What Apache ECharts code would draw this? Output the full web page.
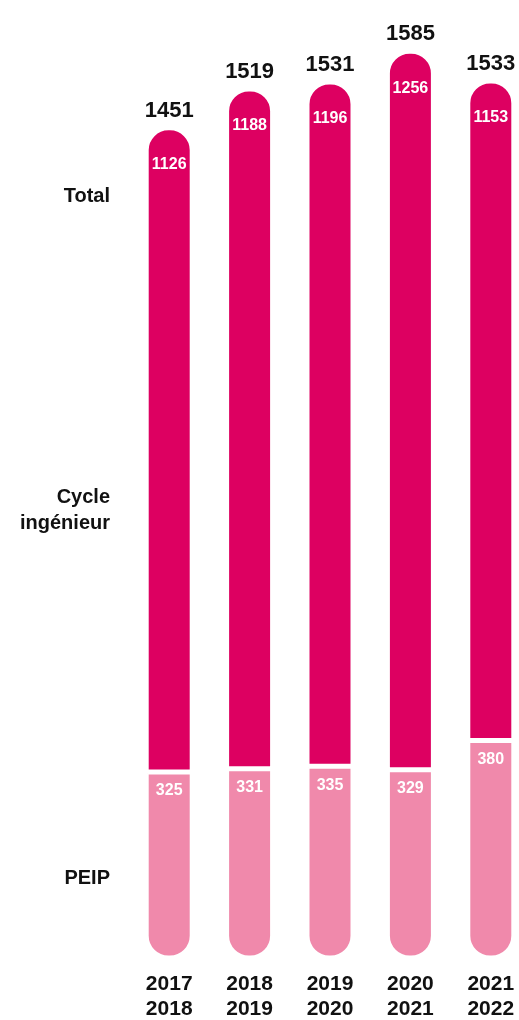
<!DOCTYPE html>
<html>
<head>
<meta charset="utf-8">
<script src="https://cdn.jsdelivr.net/npm/echarts@6/dist/echarts.min.js"></script>
<style>
html,body{margin:0;padding:0;background:#fff;}
#c{width:519px;height:1020px;}
</style>
</head>
<body>
<div id="c"></div>
<script>
const categories = ['2017\n2018', '2018\n2019', '2019\n2020', '2020\n2021', '2021\n2022'];
const peip = [325, 331, 335, 329, 380];
const cycle = [1126, 1188, 1196, 1256, 1153];
const totals = [1451, 1519, 1531, 1585, 1533];
const sideLabels = ['Total', 'Cycle\ningénieur', 'PEIP'];

const FONT = '"Liberation Sans", Arial, Helvetica, sans-serif';
const MAGENTA = '#DD0061';
const PINK = '#F089AB';

const chart = echarts.init(document.getElementById('c'));
chart.setOption({
  animation: false,
  backgroundColor: '#fff',
  grid: { left: 129, right: -12, top: 14, bottom: 62, outerBoundsMode: 'none', containLabel: false },
  xAxis: {
    type: 'category',
    data: categories,
    axisLine: { show: false },
    axisTick: { show: false },
    axisLabel: {
      color: '#111',
      fontFamily: FONT,
      fontWeight: 'bold',
      fontSize: 21,
      lineHeight: 25,
      margin: 14
    }
  },
  yAxis: {
    type: 'value',
    min: 0,
    max: 1650,
    show: false,
    splitLine: { show: false }
  },
  graphic: [
    { type: 'text', right: 409, top: 186, style: { text: sideLabels[0], fill: '#111', font: 'bold 20px ' + FONT, textAlign: 'right' } },
    { type: 'text', right: 409, top: 484, style: { text: sideLabels[1], fill: '#111', font: 'bold 20px ' + FONT, textAlign: 'right', lineHeight: 26 } },
    { type: 'text', right: 409, top: 868, style: { text: sideLabels[2], fill: '#111', font: 'bold 20px ' + FONT, textAlign: 'right' } }
  ],
  series: [
    {
      name: 'PEIP',
      type: 'bar',
      stack: 'total',
      data: peip,
      barWidth: 46,
      itemStyle: { color: PINK, borderColor: '#fff', borderWidth: 2.5, borderRadius: [0, 0, 21, 21] },
      label: {
        show: true, position: 'insideTop', distance: 11,
        color: '#fff', fontFamily: FONT, fontWeight: 'bold', fontSize: 16
      }
    },
    {
      name: 'Cycle ingénieur',
      type: 'bar',
      stack: 'total',
      data: cycle,
      barWidth: 46,
      itemStyle: { color: MAGENTA, borderColor: '#fff', borderWidth: 2.5, borderRadius: [21, 21, 0, 0] },
      label: {
        show: true, position: 'insideTop', distance: 29,
        color: '#fff', fontFamily: FONT, fontWeight: 'bold', fontSize: 16
      }
    },
    {
      name: 'Total',
      type: 'scatter',
      data: totals,
      symbolSize: 0,
      z: 5,
      itemStyle: { color: '#111', opacity: 1 },
      label: {
        show: true, position: 'top', distance: 6,
        color: '#111', opacity: 1, textBorderWidth: 0,
        fontFamily: FONT, fontWeight: 'bold', fontSize: 22
      }
    }
  ]
});
</script>
</body>
</html>
